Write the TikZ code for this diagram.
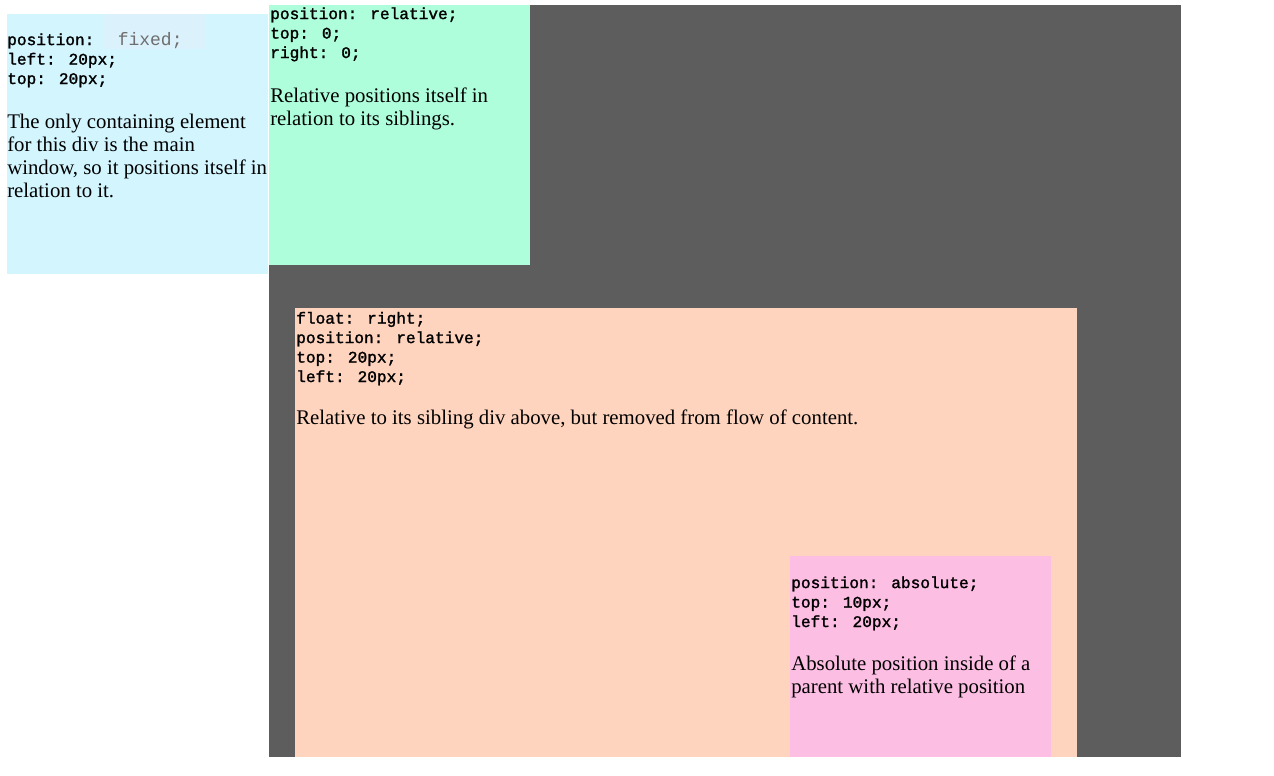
\documentclass[tikz,border=0pt]{standalone}
\usepackage{fontspec}
\setmainfont{Liberation Serif}
\newfontfamily\codefont[FakeBold=1.5]{Liberation Mono}
\newfontfamily\fixedfont{Liberation Mono}
\definecolor{panelgray}{RGB}{93,93,93}
\definecolor{fixedblue}{RGB}{210,245,254}
\definecolor{hiliteblue}{RGB}{219,241,252}
\definecolor{relgreen}{RGB}{174,254,220}
\definecolor{floatpeach}{RGB}{254,212,190}
\definecolor{abspink}{RGB}{253,190,228}
\definecolor{fixgray}{RGB}{110,110,110}

\begin{document}
\begin{tikzpicture}
    [
    x=0.75pt, y=-0.75pt,
    code/.style={font=\codefont\fontsize{12.1}{14.6}\selectfont, anchor=base west, inner sep=0pt, align=left},
    prose/.style={font=\fontsize{15.6}{17.25}\selectfont, anchor=base west, inner sep=0pt, align=left},
    ]
    \useasboundingbox [fill=white] (0,0) rectangle (1274,775);
    % boxes
    \fill [panelgray] (269,5) rectangle (1181,757);
    \fill [fixedblue] (7,14) rectangle (268,274);
    \fill [hiliteblue] (104,14) rectangle (205,49);
    \fill [relgreen] (269,5) rectangle (530,265);
    \fill [floatpeach] (295,308) rectangle (1077,757);
    \fill [abspink] (790,556) rectangle (1051,757);

    % fixed div
    \node (fixcode) at (7,84) [code] {position:\ \ \hspace{3pt}{\fixedfont\fontsize{13.5}{14.6}\selectfont\color{fixgray}fixed;}\\left: 20px;\\top: 20px;};
    \node (fixtext) at (7,197) [prose] {The only containing element\\for this div is the main\\window, so it positions itself in\\relation to it.};

    % relative div
    \node (relcode) at (270,58) [code] {position: relative;\\top: 0;\\right: 0;};
    \node (reltext) at (270,125) [prose] {Relative positions itself in\\relation to its siblings.};

    % float div
    \node (flocode) at (296,382) [code] {float: right;\\position: relative;\\top: 20px;\\left: 20px;};
    \node (flotext) at (296,424) [prose] {Relative to its sibling div above, but removed from flow of content.};

    % absolute div
    \node (abscode) at (791,627) [code] {position: absolute;\\top: 10px;\\left: 20px;};
    \node (abstext) at (791,693) [prose] {Absolute position inside of a\\parent with relative position};
  \end{tikzpicture}
\end{document}
